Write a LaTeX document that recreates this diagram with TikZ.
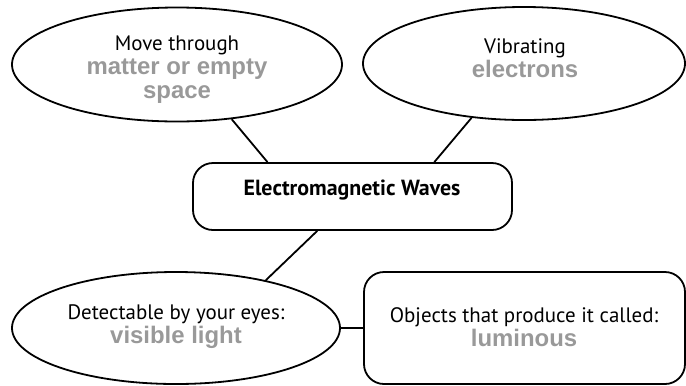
\documentclass[tikz,border=0pt]{standalone}
\usepackage{fontspec}
\setmainfont{PT Sans}
\newfontfamily\grayfont{Liberation Sans}
\usetikzlibrary{shapes.geometric,calc}
\definecolor{tgray}{RGB}{153,153,153}
\newcommand\gry[1]{{\grayfont\bfseries\color{tgray}\fontsize{24}{24}\selectfont #1}}
\begin{document}
\begin{tikzpicture}[x=1bp,y=-1bp, line width=1.8bp,
  ell/.style={draw, ellipse, inner sep=0pt},
  rbox/.style={draw, rectangle, rounded corners=20bp, inner sep=0pt},
  txt/.style={align=center, inner sep=0pt, font=\fontsize{21}{24}\selectfont}]
\useasboundingbox (0,0) rectangle (686,385);
\node[ell, minimum width=330bp, minimum height=114bp] (e1) at (177,64.5) {};
\node[ell, minimum width=322bp, minimum height=113bp] (e2) at (524,63.5) {};
\node[ell, minimum width=328bp, minimum height=112bp] (e3) at (176,328) {};
\node[rbox, minimum width=319bp, minimum height=67bp] (box) at (352.5,196.5) {};
\node[rbox, minimum width=321bp, minimum height=112bp] (b4) at (524.5,328) {};
\node[txt] (e1t) at (177,70) {Move through\\ \gry{matter or empty}\\ \gry{space}};
\node[txt] (e2t) at (525,58) {Vibrating\\ \gry{electrons}};
\node[txt] (e3t) at (176,327) {Detectable by your eyes:\\ \gry{visible light}};
\node[txt] (b4t) at (524,327) {Objects that produce it called:\\ \gry{luminous}};
\node[inner sep=0pt, anchor=base, font=\bfseries\fontsize{22}{24}\selectfont] (boxt) at (352,195.5) {Electromagnetic Waves};
\draw (e1.-45) -- ($(box.north west)!0.235!(box.north east)$);
\draw (e2.-134) -- ($(box.north west)!0.755!(box.north east)$);
\draw ($(box.south west)!0.39!(box.south east)$) -- (e3.28);
\draw (e3.east) -- (b4.west);
\end{tikzpicture}
\end{document}
